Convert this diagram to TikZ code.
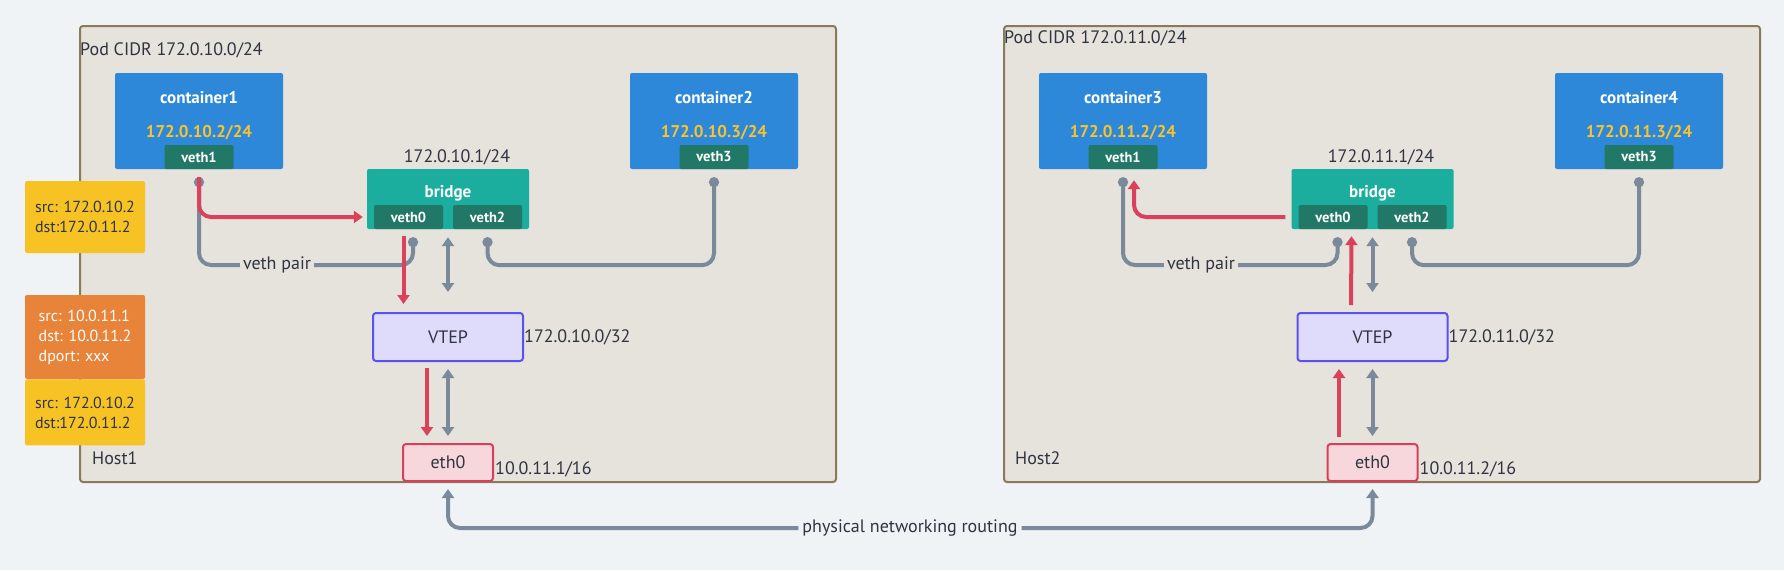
\documentclass[tikz,border=0pt]{standalone}
\usepackage{fontspec}
\setmainfont{PT Sans}
\usetikzlibrary{arrows.meta}

\definecolor{bgcol}{HTML}{F0F3F6}
\definecolor{hostfill}{HTML}{E6E2DC}
\definecolor{hostline}{HTML}{8A7A5C}
\definecolor{textcol}{HTML}{2E3440}
\definecolor{contblue}{HTML}{2D88D9}
\definecolor{vethgreen}{HTML}{217867}
\definecolor{bridgeteal}{HTML}{1BAE9E}
\definecolor{ipyellow}{HTML}{F7C32E}
\definecolor{vtepfill}{HTML}{DFDCFB}
\definecolor{vtepline}{HTML}{5B51F0}
\definecolor{ethfill}{HTML}{F7D7DC}
\definecolor{ethline}{HTML}{D8405A}
\definecolor{flowred}{HTML}{D9425A}
\definecolor{linkgrey}{HTML}{7B8A9A}
\definecolor{pktyellow}{HTML}{F7C324}
\definecolor{pktorange}{HTML}{E8843A}

\newcommand{\mainsize}{\fontsize{18}{22}\selectfont}
\newcommand{\boxsize}{\fontsize{17}{21}\selectfont\bfseries}
\newcommand{\vethsize}{\fontsize{14.5}{18}\selectfont\bfseries}
\newcommand{\pktsize}{\fontsize{16}{20}\selectfont}

\tikzstyle{host} = [rectangle, rounded corners=3pt, draw=hostline, fill=hostfill, line width=2pt, anchor=north west, minimum width=756pt, minimum height=456pt]
\tikzstyle{container} = [rectangle, rounded corners=2pt, fill=contblue, minimum width=168pt, minimum height=96pt]
\tikzstyle{bridge} = [rectangle, rounded corners=2pt, fill=bridgeteal, minimum width=162pt, minimum height=60pt]
\tikzstyle{veth} = [rectangle, rounded corners=2pt, fill=vethgreen, text=white, font=\vethsize, minimum width=69pt, minimum height=24pt, inner sep=0pt, anchor=south]
\tikzstyle{vtep} = [rectangle, rounded corners=3pt, draw=vtepline, fill=vtepfill, line width=2pt, text=textcol, font=\mainsize, minimum width=150pt, minimum height=48pt]
\tikzstyle{eth} = [rectangle, rounded corners=3pt, draw=ethline, fill=ethfill, line width=2pt, text=textcol, font=\mainsize, minimum width=90pt, minimum height=37pt]
\tikzstyle{packet} = [rectangle, rounded corners=2pt, text=textcol, font=\pktsize, align=left, minimum width=120pt, inner sep=0pt]
\tikzstyle{plain} = [text=textcol, font=\mainsize, inner sep=0pt]
\tikzstyle{boxtext} = [text=white, font=\boxsize, inner sep=0pt]
\tikzstyle{iptext} = [text=ipyellow, font=\boxsize, inner sep=0pt]
\tikzstyle{link} = [draw=linkgrey, line width=4pt, rounded corners=12pt]
\tikzstyle{flow} = [draw=flowred, line width=4pt, rounded corners=12pt, ->]
\tikzstyle{both} = [link, <->]
\tikzstyle{pinstart} = [{Circle[length=10pt]}-]
\tikzstyle{pinend} = [-{Circle[length=10pt]}]
\tikzstyle{pinboth} = [{Circle[length=10pt]}-{Circle[length=10pt]}]

\begin{document}
\begin{tikzpicture}[x=1pt, y=-1pt, >={Triangle[length=9pt, width=12pt]}]
    \fill [bgcol] (0,0) rectangle (1784,570);
    \useasboundingbox (0,0) rectangle (1784,570);

    % host 1
    \node (host1) [host] at (79,25) {};
    \node (cidr1) [plain, anchor=west] at (80,50) {Pod CIDR 172.0.10.0/24};
    \node (name1) [plain, anchor=west] at (92,458) {Host1};

    \node (c1) [container] at (199,121) {};
    \node (c1name) [boxtext] at (199,98) {container1};
    \node (c1ip) [iptext] at (199,133) {172.0.10.2/24};
    \node (c1veth) [veth] at (c1.south) {veth1};

    \node (c2) [container] at (714,121) {};
    \node (c2name) [boxtext] at (714,98) {container2};
    \node (c2ip) [iptext] at (714,133) {172.0.10.3/24};
    \node (c2veth) [veth] at (c2.south) {veth3};

    \node (b1) [bridge] at (448,199) {};
    \node (b1name) [boxtext] at (448,193) {bridge};
    \node (b1veth0) [veth] at ([xshift=-39.5pt]b1.south) {veth0};
    \node (b1veth2) [veth] at ([xshift=39.5pt]b1.south) {veth2};
    \node (b1ip) [plain] at (457,157) {172.0.10.1/24};

    \node (v1) [vtep] at (448,337) {VTEP};
    \node (v1ip) [plain, anchor=west] at (v1.east) {172.0.10.0/32};
    \node (e1) [eth] at (448,462.5) {eth0};
    \node (e1ip) [plain, anchor=west, inner sep=1pt] at ([yshift=-7pt]e1.east) {10.0.11.1/16};

    \node (vp1) [plain, fill=hostfill, inner xsep=3pt] at (277,265) {veth pair};
    \draw [link, pinstart] ([yshift=-8pt]c1veth.south) |- (vp1.west);
    \draw [link, pinend] (vp1.east) -| ([xshift=4.5pt, yshift=-8pt]b1veth0.south);
    \draw [link, pinboth] ([yshift=-8pt]c2veth.south) |- ([yshift=-36pt]b1veth2.south) -- ([yshift=-8pt]b1veth2.south);
    \draw [flow] ([yshift=-8pt]c1veth.south) |- ([xshift=-11pt]b1veth0.west);
    \draw [flow] ([xshift=-5pt, yshift=-7pt]b1veth0.south) -- ([xshift=-44.5pt, yshift=8pt]v1.north);
    \draw [both] ([yshift=-8pt]b1.south) -- ([yshift=20pt]v1.north);
    \draw [flow] ([xshift=-21pt, yshift=-6pt]v1.south) -- ([xshift=-21pt, yshift=7pt]e1.north);
    \draw [both] ([yshift=-7pt]v1.south) -- ([yshift=7pt]e1.north);

    % host 2
    \node (host2) [host] at (1003,25) {};
    \node (cidr2) [plain, anchor=west] at (1004,38) {Pod CIDR 172.0.11.0/24};
    \node (name2) [plain, anchor=west] at (1015,458) {Host2};

    \node (c3) [container] at (1123,121) {};
    \node (c3name) [boxtext] at (1123,98) {container3};
    \node (c3ip) [iptext] at (1123,133) {172.0.11.2/24};
    \node (c3veth) [veth] at (c3.south) {veth1};

    \node (c4) [container] at (1639,121) {};
    \node (c4name) [boxtext] at (1639,98) {container4};
    \node (c4ip) [iptext] at (1639,133) {172.0.11.3/24};
    \node (c4veth) [veth] at (c4.south) {veth3};

    \node (b2) [bridge] at (1372.5,199) {};
    \node (b2name) [boxtext] at (1372.5,193) {bridge};
    \node (b2veth0) [veth] at ([xshift=-39.5pt]b2.south) {veth0};
    \node (b2veth2) [veth] at ([xshift=39.5pt]b2.south) {veth2};
    \node (b2ip) [plain] at (1381,157) {172.0.11.1/24};

    \node (v2) [vtep] at (1372.5,337) {VTEP};
    \node (v2ip) [plain, anchor=west] at (v2.east) {172.0.11.0/32};
    \node (e2) [eth] at (1372.5,462.5) {eth0};
    \node (e2ip) [plain, anchor=west, inner sep=1pt] at ([yshift=-7pt]e2.east) {10.0.11.2/16};

    \node (vp2) [plain, fill=hostfill, inner xsep=3pt] at (1201,265) {veth pair};
    \draw [link, pinstart] ([yshift=-8pt]c3veth.south) |- (vp2.west);
    \draw [link, pinend] (vp2.east) -| ([xshift=4.5pt, yshift=-8pt]b2veth0.south);
    \draw [link, pinboth] ([yshift=-8pt]c4veth.south) |- ([yshift=-36pt]b2veth2.south) -- ([yshift=-8pt]b2veth2.south);
    \draw [flow] ([xshift=-13pt]b2veth0.west) -| ([xshift=11pt, yshift=-11pt]c3veth.south);
    \draw [flow] ([xshift=-21.5pt, yshift=7pt]v2.north) -- ([xshift=18.5pt, yshift=-7pt]b2veth0.south);
    \draw [both] ([yshift=-8pt]b2.south) -- ([yshift=20pt]v2.north);
    \draw [flow] ([xshift=-33.5pt, yshift=6pt]e2.north) -- ([xshift=-33.5pt, yshift=-7pt]v2.south);
    \draw [both] ([yshift=-7pt]v2.south) -- ([yshift=7pt]e2.north);

    % packets
    \node (pkt1) [packet, fill=pktyellow, minimum height=72pt] at (85,217) {src: 172.0.10.2\\dst:172.0.11.2};
    \node (pkt2) [packet, fill=pktorange, text=white, minimum height=84pt] at (85,337) {src: 10.0.11.1\\dst: 10.0.11.2\\dport: xxx};
    \node (pkt3) [packet, fill=pktyellow, minimum height=66pt, anchor=north] at (pkt2.south) {src: 172.0.10.2\\dst:172.0.11.2};

    % routing between hosts
    \node (route) [plain, fill=bgcol, inner xsep=4pt] at (910,528) {physical networking routing};
    \draw [link, <-] ([yshift=-7pt]e1.south) |- (route.west);
    \draw [link, ->] (route.east) -| ([yshift=-7pt]e2.south);
\end{tikzpicture}
\end{document}
